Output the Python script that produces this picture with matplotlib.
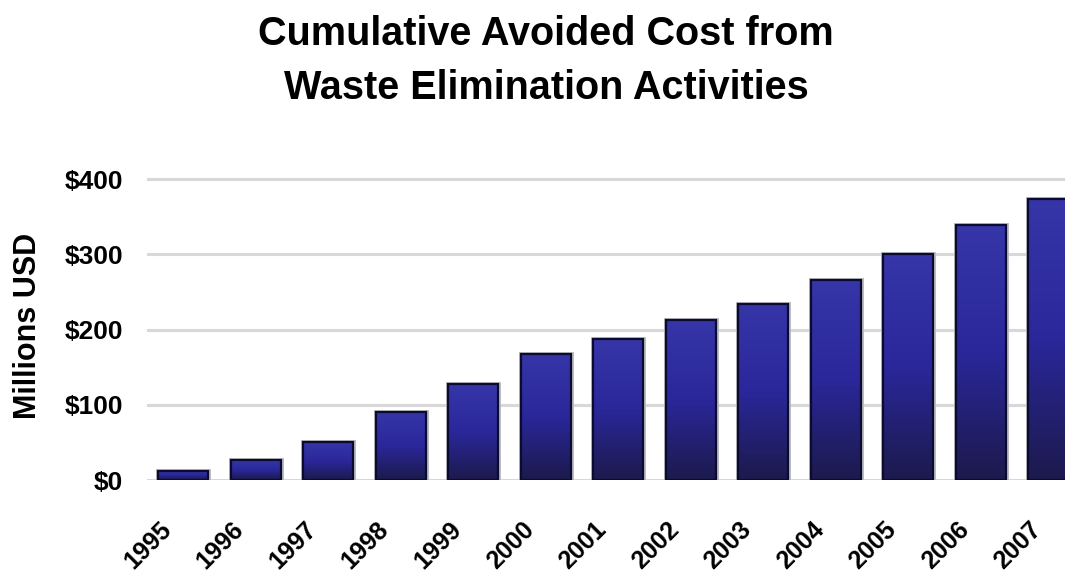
import numpy as np
import matplotlib
matplotlib.use("Agg")
import matplotlib.pyplot as plt
from matplotlib.colors import LinearSegmentedColormap
from matplotlib.transforms import ScaledTranslation

years = ["1995", "1996", "1997", "1998", "1999", "2000", "2001",
         "2002", "2003", "2004", "2005", "2006", "2007"]
avoided_cost = [12, 26, 50, 91, 127, 168, 187, 212, 234, 266, 300, 339, 373]
y_ticks = [0, 100, 200, 300, 400]
y_tick_labels = ["$0", "$100", "$200", "$300", "$400"]

plt.rcParams['font.family'] = ['Liberation Sans', 'DejaVu Sans']
plt.rcParams['font.weight'] = 'bold'

fig = plt.figure(figsize=(10.65, 5.81), dpi=100)
ax = fig.add_axes([0.138, 0.1738, 0.885, 0.531])

x = np.arange(len(years))
bars = ax.bar(x, avoided_cost, width=0.69, color='none',
              edgecolor='#0b0b30', linewidth=1.6, zorder=3)

# vertical gradient inside each bar
grad_cmap = LinearSegmentedColormap.from_list(
    'bar_grad', ['#1c1a4c', '#2a279a', '#3636a8'])
grad = np.linspace(0, 1, 256).reshape(-1, 1)
for bar in bars:
    x0, y0 = bar.get_x(), bar.get_y()
    w, h = bar.get_width(), bar.get_height()
    im = ax.imshow(grad, cmap=grad_cmap, origin='lower', aspect='auto',
                   extent=(x0, x0 + w, y0, y0 + h), zorder=2)
    im.set_clip_path(bar)
    # soft grey shadow around bar
    ax.bar(x0 + w / 2, h, width=w, color='none', edgecolor='#b8b8c0',
           linewidth=3.5, zorder=1.5)

ax.set_xlim(-0.5, len(years) - 0.5)
ax.set_ylim(0, 410)
ax.set_yticks(y_ticks)
ax.set_yticklabels(y_tick_labels, fontsize=19, fontweight='bold')
ax.yaxis.grid(True, color='#d8d8d8', linewidth=2.2, zorder=0)
ax.set_axisbelow(True)
for spine in ax.spines.values():
    spine.set_visible(False)
ax.tick_params(axis='y', length=0, pad=17)
ax.tick_params(axis='x', length=0, pad=9)
ax.set_xticks(x)
ax.set_xticklabels(years, rotation=45, ha='right', rotation_mode='anchor',
                   fontsize=18, fontweight='bold')
# labels sit a bit left of and below the bar centres, as in the original
shift = ScaledTranslation(-0.24, -0.25, fig.dpi_scale_trans)
for lbl in ax.get_xticklabels():
    lbl.set_transform(lbl.get_transform() + shift)

ax.set_ylabel('Millions USD', fontsize=22, fontweight='bold')
ax.yaxis.set_label_coords(-0.11, 0.5)

fig.text(0.513, 0.922, 'Cumulative Avoided Cost from',
         ha='center', va='baseline', fontsize=28.5, fontweight='bold')
fig.text(0.513, 0.830, 'Waste Elimination Activities',
         ha='center', va='baseline', fontsize=28.5, fontweight='bold')

fig.savefig('out.png', dpi=100)
